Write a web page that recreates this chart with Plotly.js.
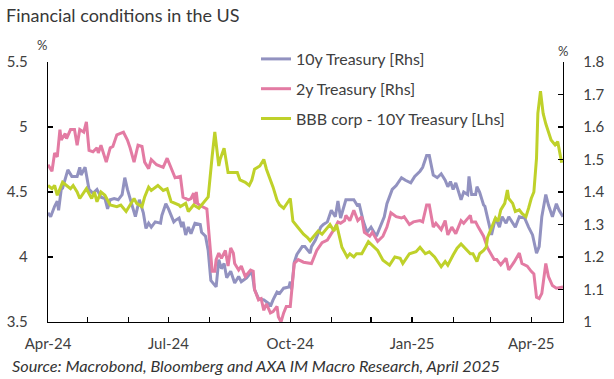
<!DOCTYPE html>
<html>
<head>
<meta charset="utf-8">
<script src="https://cdn.plot.ly/plotly-3.0.1.min.js"></script>
<style>html,body{margin:0;padding:0;background:#fff;}#chart{width:614px;height:379px;}</style>
</head>
<body>
<div id="chart"></div>
<script>
// ---- Data ----
const dates2y = ["2024-04-01","2024-04-04","2024-04-06","2024-04-08","2024-04-10","2024-04-11","2024-04-14","2024-04-15","2024-04-18","2024-04-21","2024-04-23","2024-04-25","2024-04-28","2024-04-30","2024-05-02","2024-05-05","2024-05-08","2024-05-09","2024-05-11","2024-05-15","2024-05-18","2024-05-20","2024-05-23","2024-05-28","2024-05-31","2024-06-02","2024-06-05","2024-06-08","2024-06-11","2024-06-13","2024-06-16","2024-06-18","2024-06-22","2024-06-27","2024-06-30","2024-07-03","2024-07-06","2024-07-10","2024-07-12","2024-07-16","2024-07-18","2024-07-20","2024-07-21","2024-07-22","2024-07-23","2024-07-26","2024-07-30","2024-08-01","2024-08-03","2024-08-05","2024-08-06","2024-08-08","2024-08-10","2024-08-13","2024-08-14","2024-08-15","2024-08-17","2024-08-19","2024-08-20","2024-08-23","2024-08-25","2024-08-28","2024-09-01","2024-09-03","2024-09-04","2024-09-07","2024-09-09","2024-09-11","2024-09-13","2024-09-16","2024-09-18","2024-09-21","2024-09-22","2024-09-24","2024-09-26","2024-09-28","2024-10-01","2024-10-02","2024-10-04","2024-10-07","2024-10-11","2024-10-17","2024-10-21","2024-10-25","2024-10-29","2024-11-01","2024-11-03","2024-11-06","2024-11-08","2024-11-11","2024-11-12","2024-11-15","2024-11-18","2024-11-21","2024-11-24","2024-11-26","2024-11-30","2024-12-02","2024-12-06","2024-12-10","2024-12-13","2024-12-16","2024-12-20","2024-12-24","2024-12-26","2024-12-30","2025-01-02","2025-01-07","2025-01-09","2025-01-12","2025-01-14","2025-01-17","2025-01-19","2025-01-23","2025-01-26","2025-01-28","2025-01-31","2025-02-03","2025-02-07","2025-02-09","2025-02-14","2025-02-15","2025-02-18","2025-02-20","2025-02-24","2025-02-27","2025-03-01","2025-03-04","2025-03-06","2025-03-09","2025-03-13","2025-03-15","2025-03-19","2025-03-23","2025-03-25","2025-03-29","2025-04-01","2025-04-03","2025-04-05","2025-04-07","2025-04-09","2025-04-12","2025-04-14","2025-04-17","2025-04-20","2025-04-25"];
const values2y = [4.71,4.66,4.80,4.77,4.98,4.90,4.95,4.91,4.98,4.98,4.86,4.98,4.96,5.04,4.82,4.81,4.84,4.80,4.86,4.73,4.84,4.85,4.94,4.96,4.90,4.84,4.73,4.86,4.85,4.73,4.68,4.75,4.71,4.69,4.76,4.69,4.61,4.62,4.46,4.44,4.45,4.49,4.41,4.50,4.41,4.39,4.37,4.13,3.89,3.89,3.98,4.03,3.99,4.05,4.00,3.93,4.07,4.03,3.95,3.90,3.93,3.85,3.90,3.89,3.75,3.67,3.68,3.59,3.64,3.57,3.58,3.62,3.54,3.50,3.57,3.62,3.62,3.72,3.95,3.98,3.96,3.95,4.05,4.11,4.13,4.18,4.21,4.27,4.26,4.28,4.32,4.28,4.36,4.28,4.31,4.19,4.16,4.19,4.12,4.16,4.23,4.34,4.31,4.30,4.31,4.25,4.27,4.28,4.27,4.40,4.40,4.23,4.26,4.21,4.28,4.17,4.23,4.18,4.28,4.26,4.32,4.27,4.27,4.23,4.16,4.07,4.03,3.98,3.98,3.94,3.99,3.90,3.96,4.03,3.95,3.93,3.89,3.87,3.69,3.68,3.72,3.95,3.85,3.78,3.76,3.77];

const dates10y = ["2024-04-01","2024-04-03","2024-04-06","2024-04-08","2024-04-09","2024-04-11","2024-04-12","2024-04-14","2024-04-16","2024-04-19","2024-04-23","2024-04-25","2024-04-26","2024-04-29","2024-04-30","2024-05-02","2024-05-05","2024-05-08","2024-05-11","2024-05-14","2024-05-16","2024-05-18","2024-05-21","2024-05-24","2024-05-27","2024-05-29","2024-05-31","2024-06-02","2024-06-04","2024-06-06","2024-06-09","2024-06-12","2024-06-14","2024-06-16","2024-06-18","2024-06-21","2024-06-25","2024-06-26","2024-06-29","2024-07-01","2024-07-05","2024-07-06","2024-07-09","2024-07-11","2024-07-12","2024-07-14","2024-07-16","2024-07-18","2024-07-21","2024-07-25","2024-07-26","2024-07-29","2024-07-31","2024-08-02","2024-08-06","2024-08-08","2024-08-10","2024-08-12","2024-08-14","2024-08-17","2024-08-20","2024-08-23","2024-08-25","2024-08-29","2024-09-02","2024-09-04","2024-09-07","2024-09-11","2024-09-15","2024-09-16","2024-09-18","2024-09-21","2024-09-23","2024-09-26","2024-09-30","2024-10-01","2024-10-02","2024-10-04","2024-10-06","2024-10-10","2024-10-12","2024-10-16","2024-10-17","2024-10-20","2024-10-24","2024-10-26","2024-10-29","2024-11-01","2024-11-04","2024-11-06","2024-11-08","2024-11-12","2024-11-18","2024-11-21","2024-11-22","2024-11-25","2024-11-28","2024-12-01","2024-12-05","2024-12-08","2024-12-11","2024-12-13","2024-12-17","2024-12-20","2024-12-24","2024-12-27","2024-12-31","2025-01-03","2025-01-07","2025-01-09","2025-01-12","2025-01-14","2025-01-17","2025-01-20","2025-01-23","2025-01-26","2025-01-28","2025-01-30","2025-02-01","2025-02-03","2025-02-07","2025-02-09","2025-02-12","2025-02-13","2025-02-15","2025-02-18","2025-02-19","2025-02-21","2025-02-24","2025-02-25","2025-02-28","2025-03-02","2025-03-05","2025-03-08","2025-03-10","2025-03-13","2025-03-15","2025-03-20","2025-03-23","2025-03-27","2025-03-30","2025-04-02","2025-04-05","2025-04-07","2025-04-09","2025-04-12","2025-04-14","2025-04-17","2025-04-20","2025-04-22","2025-04-25"];
const values10y = [4.34,4.31,4.39,4.43,4.36,4.52,4.53,4.61,4.67,4.62,4.62,4.69,4.63,4.69,4.64,4.52,4.49,4.52,4.46,4.45,4.37,4.44,4.45,4.44,4.48,4.61,4.52,4.45,4.40,4.31,4.44,4.34,4.22,4.26,4.23,4.27,4.26,4.32,4.41,4.37,4.27,4.28,4.30,4.23,4.27,4.17,4.23,4.18,4.26,4.25,4.19,4.16,4.05,3.82,3.77,3.98,3.91,3.95,3.84,3.89,3.80,3.85,3.81,3.84,3.89,3.75,3.68,3.67,3.64,3.62,3.67,3.73,3.72,3.76,3.77,3.81,3.75,3.96,4.02,4.08,4.08,4.03,4.08,4.13,4.23,4.25,4.27,4.36,4.31,4.43,4.30,4.44,4.44,4.39,4.41,4.28,4.19,4.23,4.16,4.23,4.31,4.41,4.52,4.55,4.61,4.59,4.57,4.62,4.66,4.69,4.78,4.78,4.63,4.61,4.64,4.59,4.54,4.58,4.52,4.57,4.44,4.50,4.48,4.62,4.48,4.48,4.54,4.50,4.40,4.39,4.26,4.17,4.30,4.23,4.31,4.26,4.31,4.23,4.31,4.30,4.23,4.17,4.03,4.08,4.31,4.48,4.40,4.31,4.41,4.36,4.31];

const datesBBB = ["2024-04-01","2024-04-04","2024-04-06","2024-04-08","2024-04-10","2024-04-12","2024-04-15","2024-04-18","2024-04-20","2024-04-23","2024-04-25","2024-04-30","2024-05-04","2024-05-06","2024-05-08","2024-05-11","2024-05-14","2024-05-18","2024-05-23","2024-05-26","2024-05-30","2024-06-05","2024-06-07","2024-06-11","2024-06-13","2024-06-16","2024-06-18","2024-06-23","2024-06-27","2024-06-30","2024-07-03","2024-07-09","2024-07-10","2024-07-14","2024-07-16","2024-07-20","2024-07-24","2024-07-29","2024-07-31","2024-08-03","2024-08-05","2024-08-08","2024-08-09","2024-08-12","2024-08-15","2024-08-19","2024-08-22","2024-08-24","2024-08-28","2024-08-31","2024-09-02","2024-09-04","2024-09-08","2024-09-11","2024-09-13","2024-09-18","2024-09-21","2024-09-23","2024-09-26","2024-10-01","2024-10-03","2024-10-07","2024-10-11","2024-10-14","2024-10-16","2024-10-18","2024-10-22","2024-10-25","2024-10-31","2024-11-03","2024-11-05","2024-11-09","2024-11-13","2024-11-15","2024-11-18","2024-11-20","2024-11-24","2024-11-29","2024-12-03","2024-12-06","2024-12-10","2024-12-15","2024-12-19","2024-12-23","2024-12-25","2024-12-30","2025-01-04","2025-01-07","2025-01-11","2025-01-14","2025-01-18","2025-01-23","2025-01-26","2025-01-28","2025-02-01","2025-02-04","2025-02-07","2025-02-10","2025-02-14","2025-02-16","2025-02-19","2025-02-21","2025-02-24","2025-02-26","2025-02-27","2025-03-03","2025-03-05","2025-03-07","2025-03-09","2025-03-12","2025-03-14","2025-03-15","2025-03-18","2025-03-20","2025-03-23","2025-03-25","2025-03-28","2025-03-30","2025-04-01","2025-04-03","2025-04-05","2025-04-06","2025-04-08","2025-04-10","2025-04-12","2025-04-16","2025-04-19","2025-04-21","2025-04-24"];
const valuesBBB = [1.42,1.41,1.42,1.39,1.41,1.43,1.42,1.41,1.42,1.40,1.38,1.41,1.38,1.40,1.37,1.40,1.39,1.36,1.355,1.36,1.34,1.38,1.365,1.355,1.385,1.415,1.405,1.42,1.405,1.41,1.37,1.36,1.355,1.365,1.34,1.36,1.35,1.375,1.385,1.51,1.585,1.48,1.50,1.535,1.46,1.46,1.46,1.437,1.43,1.42,1.437,1.47,1.48,1.50,1.47,1.415,1.375,1.36,1.35,1.38,1.31,1.29,1.27,1.26,1.25,1.26,1.28,1.27,1.30,1.28,1.30,1.23,1.20,1.21,1.20,1.21,1.21,1.247,1.23,1.22,1.19,1.175,1.20,1.196,1.18,1.21,1.216,1.23,1.21,1.216,1.20,1.17,1.186,1.175,1.206,1.227,1.24,1.227,1.21,1.21,1.186,1.21,1.22,1.23,1.26,1.30,1.32,1.31,1.345,1.365,1.406,1.38,1.365,1.34,1.345,1.334,1.324,1.35,1.38,1.40,1.504,1.642,1.71,1.642,1.61,1.56,1.545,1.555,1.49];

const seriesNames = ["10y Treasury [Rhs]", "2y Treasury [Rhs]", "BBB corp - 10Y Treasury [Lhs]"];
const leftTickVals = [3.5, 4, 4.5, 5, 5.5];
const leftTickText = ["3.5", "4", "4.5", "5", "5.5"];
const rightTickVals = [1, 1.1, 1.2, 1.3, 1.4, 1.5, 1.6, 1.7, 1.8];
const rightTickText = ["1", "1.1", "1.2", "1.3", "1.4", "1.5", "1.6", "1.7", "1.8"];
const xRange = ["2024-04-01", "2025-04-25"];

const FONT = "Lato, 'Open Sans', sans-serif";
const TXT = "#404040";

const traces = [
  {x: dates10y, y: values10y, name: seriesNames[0], type: "scatter", mode: "lines",
   line: {color: "#9292c0", width: 3}, yaxis: "y", legendgroup: "a"},
  {x: dates2y, y: values2y, name: seriesNames[1], type: "scatter", mode: "lines",
   line: {color: "#e37ba3", width: 3}, yaxis: "y", legendgroup: "b"},
  {x: datesBBB, y: valuesBBB, name: seriesNames[2], type: "scatter", mode: "lines",
   line: {color: "#bfd12a", width: 3}, yaxis: "y2", legendgroup: "c"}
];

const layout = {
  width: 614, height: 379,
  margin: {l: 48, r: 51, t: 62, b: 57, pad: 0},
  paper_bgcolor: "#fff", plot_bgcolor: "#fff",
  font: {family: FONT, color: TXT, size: 15},
  title: {text: "Financial conditions in the US", x: 6/614, xanchor: "left", xref: "container",
          y: 1 - 16/379, yanchor: "middle", yref: "container", font: {family: FONT, size: 18, color: "#383838"}},
  showlegend: true,
  legend: {x: (256-48)/515, xanchor: "left", y: (322-42)/260, yanchor: "top",
           font: {family: FONT, size: 16, color: TXT}, bgcolor: "rgba(0,0,0,0)",
           traceorder: "grouped", tracegroupgap: 6},
  xaxis: {type: "date", range: xRange, tick0: "2024-04-01", dtick: "M3", tickformat: "%b-%y",
          ticks: "inside", ticklen: 5, tickwidth: 1.2, tickcolor: "#000",
          showline: true, linecolor: "#000", linewidth: 1.3,
          minor: {dtick: "M1", tick0: "2024-04-01", ticks: "inside", ticklen: 5, tickwidth: 1.2, tickcolor: "#000", showgrid: false},
          showgrid: false, zeroline: false, ticklabelstandoff: 8,
          tickfont: {family: FONT, size: 15, color: TXT}},
  yaxis: {range: [3.5, 5.5], tickmode: "array", tickvals: leftTickVals, ticktext: leftTickText,
          ticks: "inside", ticklen: 5, tickwidth: 1.2, tickcolor: "#000",
          showline: true, linecolor: "#000", linewidth: 1.3, showgrid: false, zeroline: false,
          ticklabelstandoff: 16, tickfont: {family: FONT, size: 15, color: TXT}},
  yaxis2: {range: [1, 1.8], overlaying: "y", side: "right", tickmode: "array",
           tickvals: rightTickVals, ticktext: rightTickText,
           ticks: "inside", ticklen: 5, tickwidth: 1.2, tickcolor: "#000",
           showline: true, linecolor: "#000", linewidth: 1.3, showgrid: false, zeroline: false,
           ticklabelstandoff: 16, tickfont: {family: FONT, size: 15, color: TXT}},
  annotations: [
    {text: "%", xref: "paper", yref: "paper", x: (42-48)/515, y: (322-45)/260, xanchor: "center", yanchor: "middle",
     showarrow: false, font: {family: FONT, size: 13, color: TXT}},
    {text: "%", xref: "paper", yref: "paper", x: (563-48)/515, y: (322-51)/260, xanchor: "center", yanchor: "middle",
     showarrow: false, font: {family: FONT, size: 13, color: TXT}},
    {text: "<i>Source: Macrobond, Bloomberg and AXA IM Macro Research, April 2025</i>", xref: "paper", yref: "paper",
     x: (10-48)/515, y: (322-365)/260, xanchor: "left", yanchor: "middle", showarrow: false,
     font: {family: FONT, size: 16.3, color: "#333"}}
  ]
};

Plotly.newPlot("chart", traces, layout, {displayModeBar: false, staticPlot: true});
</script>
</body>
</html>
